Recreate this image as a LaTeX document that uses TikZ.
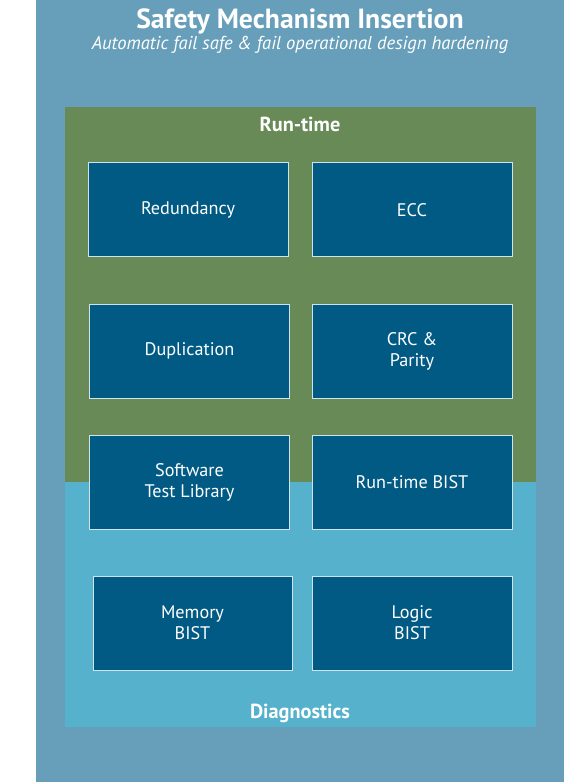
\documentclass[tikz,border=0pt]{standalone}
\usepackage{fontspec}
\setmainfont{PT Sans}
\definecolor{outerblue}{HTML}{679FBA}
\definecolor{rtgreen}{HTML}{678A56}
\definecolor{diagcyan}{HTML}{56B2CC}
\definecolor{boxblue}{HTML}{005A84}
\definecolor{boxedge}{HTML}{CFE3EC}
\begin{document}
\begin{tikzpicture}[x=1pt,y=-1pt,
  mech/.style={fill=boxblue,draw=boxedge,line width=1pt,minimum width=200pt,minimum height=94pt,
    text=white,align=center,inner sep=0pt,font=\fontsize{18.2}{21}\selectfont},
  hdr/.style={text=white,font=\bfseries\fontsize{20.3}{23}\selectfont,inner sep=0pt}]
\useasboundingbox (0,0) rectangle (586,783);
\fill[white] (0,0) rectangle (586,783);
\fill[outerblue] (36,0) rectangle (564,782);
\fill[rtgreen] (65,107) rectangle (536,482);
\fill[diagcyan] (65,482) rectangle (536,727);
\node[text=white,font=\bfseries\fontsize{27.7}{30}\selectfont,inner sep=0pt] (title) at (300,21) {Safety Mechanism Insertion};
\node[text=white,font=\itshape\fontsize{18.6}{21}\selectfont,inner sep=0pt] (sub) at (300,45) {Automatic fail safe \& fail operational design hardening};
\node[hdr] (rt) at (300,124) {Run-time};
\node[hdr] (dg) at (300,713) {Diagnostics};
\node[mech] (red) at (188,210) {Redundancy};
\node[mech] (ecc) at (412,210) {ECC};
\node[mech] (dup) at (189.5,351) {Duplication};
\node[mech] (crc) at (412,351) {CRC \&\\Parity};
\node[mech] (stl) at (189.5,482) {Software\\Test Library};
\node[mech] (rtb) at (412,482) {Run-time BIST};
\node[mech,minimum width=199pt] (mem) at (192.5,623) {Memory\\BIST};
\node[mech] (log) at (412,623) {Logic\\BIST};
\end{tikzpicture}
\end{document}
